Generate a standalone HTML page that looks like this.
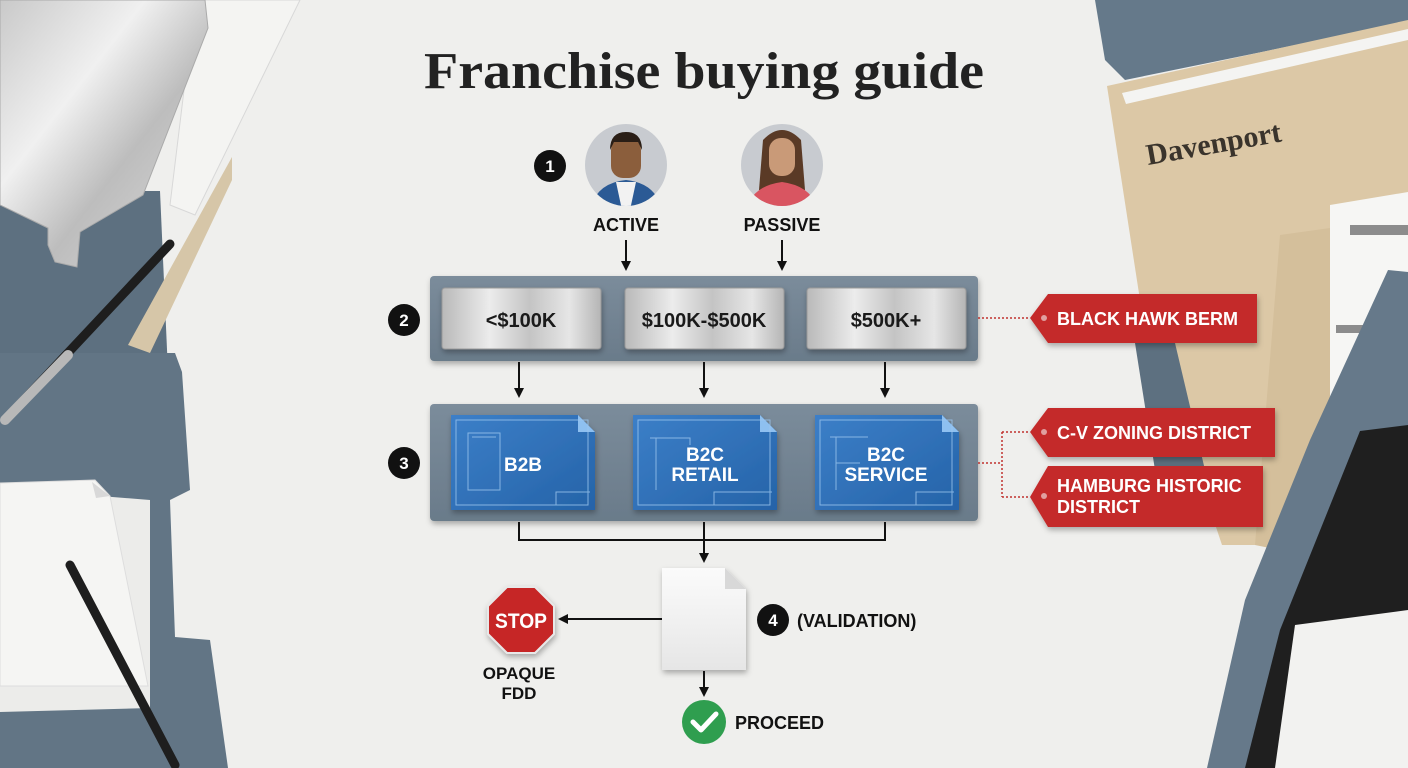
<!DOCTYPE html>
<html><head><meta charset="utf-8"><style>
html,body{margin:0;padding:0;width:1408px;height:768px;overflow:hidden;background:#efefed}
svg{display:block}
text{font-family:"Liberation Sans",sans-serif;font-weight:bold}
</style></head><body>
<svg width="1408" height="768" viewBox="0 0 1408 768" xmlns="http://www.w3.org/2000/svg">
<defs>
<linearGradient id="metal" x1="0" y1="0" x2="1" y2="1">
<stop offset="0" stop-color="#c9c9c9"/><stop offset="0.35" stop-color="#f0f0f0"/><stop offset="0.6" stop-color="#bdbdbd"/><stop offset="1" stop-color="#dcdcdc"/></linearGradient>
<linearGradient id="btn" x1="0" y1="0" x2="1" y2="0">
<stop offset="0" stop-color="#b9b9b9"/><stop offset="0.3" stop-color="#ececec"/><stop offset="0.55" stop-color="#c4c4c4"/><stop offset="0.8" stop-color="#e6e6e6"/><stop offset="1" stop-color="#b5b5b5"/></linearGradient>
<linearGradient id="panel" x1="0" y1="0" x2="0" y2="1">
<stop offset="0" stop-color="#7b8c9b"/><stop offset="1" stop-color="#6a7b8a"/></linearGradient>
<linearGradient id="bp" x1="0" y1="0" x2="1" y2="1">
<stop offset="0" stop-color="#3c7fc8"/><stop offset="1" stop-color="#2563a8"/></linearGradient>
<linearGradient id="doc" x1="0" y1="0" x2="0" y2="1">
<stop offset="0" stop-color="#fbfbfb"/><stop offset="1" stop-color="#e6e6e6"/></linearGradient>
<marker id="ah" markerWidth="10" markerHeight="10" refX="8" refY="5" orient="auto" markerUnits="userSpaceOnUse">
<path d="M0,0 L10,5 L0,10 Z" fill="#111"/></marker>
<filter id="sh" x="-10%" y="-10%" width="120%" height="130%"><feDropShadow dx="1" dy="3" stdDeviation="3" flood-opacity="0.3"/></filter>
</defs>

<!-- LEFT DECOR -->
<polygon points="0,191 160,191 168,372 0,372" fill="#5d7080"/>
<polygon points="232,157 232,180 150,353 128,345" fill="#d6c6a8"/>
<polygon points="0,353 175,353 182,372 190,490 170,500 175,637 210,640 228,768 0,768" fill="#627585"/>
<polygon points="195,0 300,0 195,215 170,205" fill="#f4f4f2" stroke="#d8d8d8"/>
<polygon points="0,0 205,0 208,28 143,195 80,232 77,267 55,262 48,245 48,228 0,205" fill="url(#metal)" stroke="#aaa"/>
<polygon points="0,488 150,500 150,708 0,712" fill="#ececea"/>
<polygon points="0,483 95,480 110,496 148,686 0,686" fill="#f5f5f3" stroke="#ddd"/>
<polygon points="92,482 110,496 96,498" fill="#d8d8d8"/>
<line x1="170" y1="244" x2="5" y2="420" stroke="#1e1e1e" stroke-width="9" stroke-linecap="round"/>
<line x1="68" y1="355" x2="5" y2="420" stroke="#b8b8b8" stroke-width="10" stroke-linecap="round"/>
<line x1="70" y1="565" x2="175" y2="765" stroke="#1e1e1e" stroke-width="9" stroke-linecap="round"/>

<!-- RIGHT DECOR -->
<polygon points="1095,0 1408,0 1408,22 1125,80 1105,60" fill="#65798a"/>
<polygon points="1107,86 1408,20 1408,400 1255,545 1222,545 1140,300" fill="#dcc8a6"/>
<polygon points="1122,93 1408,29 1408,40 1126,104" fill="#f4f4f2"/>
<polygon points="1280,235 1330,228 1330,560 1255,545" fill="#d4bf9b"/>
<text x="1148" y="165" transform="rotate(-10 1148 165)" font-size="30" fill="#3a342c" style="font-family:'Liberation Serif',serif">Davenport</text>
<polygon points="1135,343 1175,343 1205,470 1155,470" fill="#5d7080"/>
<polygon points="1330,205 1408,192 1408,420 1330,420" fill="#f6f6f4"/>
<rect x="1350" y="225" width="58" height="10" fill="#8c8c8c"/>
<rect x="1336" y="325" width="72" height="8" fill="#8c8c8c"/>
<polygon points="1388,270 1408,272 1408,768 1207,768 1245,600 1310,440" fill="#66798a"/>
<polygon points="1360,431 1408,425 1408,768 1245,768 1280,630" fill="#1f1f1f"/>
<polygon points="1295,625 1408,610 1408,768 1275,768" fill="#f2f2f0"/>

<!-- TITLE -->
<text x="424" y="88" font-size="52" fill="#222" textLength="560" lengthAdjust="spacingAndGlyphs" style="font-family:'Liberation Serif',serif;font-weight:bold">Franchise buying guide</text>

<!-- STEP 1 -->
<circle cx="550" cy="166" r="16" fill="#111"/>
<text x="550" y="172" font-size="17" fill="#fff" text-anchor="middle">1</text>
<g>
<circle cx="626" cy="165" r="41" fill="#c8cbd0"/>
<clipPath id="c1"><circle cx="626" cy="165" r="41"/></clipPath>
<g clip-path="url(#c1)">
<path d="M590,210 Q596,183 626,180 Q656,183 662,210 Z" fill="#2b5a95"/>
<polygon points="616,182 636,182 630,210 622,210" fill="#f2f2f2"/>
<rect x="611" y="138" width="30" height="40" rx="12" fill="#8b5e3c"/>
<path d="M610,150 Q610,132 626,132 Q642,132 642,150 L638,142 L614,142 Z" fill="#2a1e16"/>
</g>
<circle cx="782" cy="165" r="41" fill="#c8cbd0"/>
<clipPath id="c2"><circle cx="782" cy="165" r="41"/></clipPath>
<g clip-path="url(#c2)">
<path d="M763,140 Q782,120 801,140 L805,190 L759,190 Z" fill="#5a3a26"/>
<path d="M746,210 Q752,186 782,182 Q812,186 818,210 Z" fill="#d95561"/>
<rect x="769" y="138" width="26" height="38" rx="12" fill="#c99a78"/>
</g>
</g>
<text x="626" y="231" font-size="18" fill="#111" text-anchor="middle">ACTIVE</text>
<text x="782" y="231" font-size="18" fill="#111" text-anchor="middle">PASSIVE</text>
<line x1="626" y1="240" x2="626" y2="269" stroke="#111" stroke-width="2" marker-end="url(#ah)"/>
<line x1="782" y1="240" x2="782" y2="269" stroke="#111" stroke-width="2" marker-end="url(#ah)"/>

<!-- PANEL 1 -->
<rect x="430" y="276" width="548" height="85" rx="4" fill="url(#panel)" filter="url(#sh)"/>
<circle cx="404" cy="320" r="16" fill="#111"/>
<text x="404" y="326" font-size="17" fill="#fff" text-anchor="middle">2</text>
<g filter="url(#sh)">
<rect x="442" y="288" width="159" height="61" rx="3" fill="url(#btn)" stroke="#9a9a9a"/>
<rect x="625" y="288" width="159" height="61" rx="3" fill="url(#btn)" stroke="#9a9a9a"/>
<rect x="807" y="288" width="159" height="61" rx="3" fill="url(#btn)" stroke="#9a9a9a"/>
</g>
<text x="521" y="327" font-size="20" fill="#1a1a1a" text-anchor="middle">&lt;$100K</text>
<text x="704" y="327" font-size="20" fill="#1a1a1a" text-anchor="middle">$100K-$500K</text>
<text x="886" y="327" font-size="20" fill="#1a1a1a" text-anchor="middle">$500K+</text>
<line x1="978" y1="318" x2="1030" y2="318" stroke="#c0322f" stroke-width="1.5" stroke-dasharray="2,2"/>

<line x1="519" y1="362" x2="519" y2="396" stroke="#111" stroke-width="2" marker-end="url(#ah)"/>
<line x1="704" y1="362" x2="704" y2="396" stroke="#111" stroke-width="2" marker-end="url(#ah)"/>
<line x1="885" y1="362" x2="885" y2="396" stroke="#111" stroke-width="2" marker-end="url(#ah)"/>

<!-- PANEL 2 -->
<rect x="430" y="404" width="548" height="117" rx="4" fill="url(#panel)" filter="url(#sh)"/>
<circle cx="404" cy="463" r="16" fill="#111"/>
<text x="404" y="469" font-size="17" fill="#fff" text-anchor="middle">3</text>
<g filter="url(#sh)">
<polygon points="451,415 578,415 595,432 595,510 451,510" fill="url(#bp)"/>
<polygon points="633,415 760,415 777,432 777,510 633,510" fill="url(#bp)"/>
<polygon points="815,415 942,415 959,432 959,510 815,510" fill="url(#bp)"/>
</g>
<g fill="#8ec0f0"><polygon points="578,415 595,432 578,432"/><polygon points="760,415 777,432 760,432"/><polygon points="942,415 959,432 942,432"/></g>
<g fill="none" stroke="#9cc6ee" stroke-width="1" opacity="0.8">
<rect x="456" y="420" width="132" height="85"/><rect x="638" y="420" width="132" height="85"/><rect x="820" y="420" width="132" height="85"/>
<path d="M468,433 L500,433 L500,490 L468,490 Z M472,437 L496,437"/>
<path d="M650,438 L656,438 L656,490 M656,438 L690,438 L690,445"/>
<path d="M830,437 L836,437 L836,490 M836,437 L868,437 M836,463 L860,463"/>
<path d="M556,505 L556,492 L590,492 M714,505 L714,492 L772,492 M916,505 L916,492 L954,492"/>
</g>
<text x="523" y="471" font-size="19" fill="#fff" text-anchor="middle">B2B</text>
<text x="705" y="461" font-size="19" fill="#fff" text-anchor="middle">B2C</text>
<text x="705" y="481" font-size="19" fill="#fff" text-anchor="middle">RETAIL</text>
<text x="886" y="461" font-size="19" fill="#fff" text-anchor="middle">B2C</text>
<text x="886" y="481" font-size="19" fill="#fff" text-anchor="middle">SERVICE</text>
<path d="M978,463 L1002,463 M1002,432 L1002,497 M1002,432 L1030,432 M1002,497 L1030,497" fill="none" stroke="#c0322f" stroke-width="1.5" stroke-dasharray="2,2"/>

<!-- TAGS -->
<g filter="url(#sh)">
<polygon points="1048,294 1257,294 1257,343 1048,343 1030,318" fill="#c42a2a"/>
<polygon points="1048,408 1275,408 1275,457 1048,457 1030,432" fill="#c42a2a"/>
<polygon points="1048,466 1263,466 1263,527 1048,527 1030,497" fill="#c42a2a"/>
</g>
<g fill="#e0a0a0"><circle cx="1044" cy="318" r="3"/><circle cx="1044" cy="432" r="3"/><circle cx="1044" cy="496" r="3"/></g>
<text x="1057" y="325" font-size="18" fill="#fff">BLACK HAWK BERM</text>
<text x="1057" y="439" font-size="18" fill="#fff">C-V ZONING DISTRICT</text>
<text x="1057" y="492" font-size="18" fill="#fff">HAMBURG HISTORIC</text>
<text x="1057" y="513" font-size="18" fill="#fff">DISTRICT</text>

<!-- BRACKET -->
<path d="M519,522 L519,540 L885,540 L885,522 M704,522 L704,540" fill="none" stroke="#111" stroke-width="2"/>
<line x1="704" y1="540" x2="704" y2="561" stroke="#111" stroke-width="2" marker-end="url(#ah)"/>

<!-- DOC -->
<g filter="url(#sh)">
<polygon points="662,568 725,568 746,589 746,670 662,670" fill="url(#doc)"/>
</g>
<polygon points="725,568 746,589 725,589" fill="#d8d8d8"/>
<line x1="662" y1="619" x2="560" y2="619" stroke="#111" stroke-width="2" marker-end="url(#ah)"/>
<circle cx="773" cy="620" r="16" fill="#111"/>
<text x="773" y="626" font-size="17" fill="#fff" text-anchor="middle">4</text>
<text x="797" y="627" font-size="18" fill="#111">(VALIDATION)</text>

<!-- STOP -->
<polygon points="507,587 535,587 554,606 554,634 535,653 507,653 488,634 488,606" fill="#c62828" stroke="#e8e8e8" stroke-width="2" filter="url(#sh)"/>
<text x="521" y="628" font-size="21" fill="#fff" text-anchor="middle" textLength="52" lengthAdjust="spacingAndGlyphs">STOP</text>
<text x="519" y="679" font-size="17" fill="#111" text-anchor="middle">OPAQUE</text>
<text x="519" y="699" font-size="17" fill="#111" text-anchor="middle">FDD</text>

<line x1="704" y1="671" x2="704" y2="695" stroke="#111" stroke-width="2" marker-end="url(#ah)"/>
<circle cx="704" cy="722" r="22" fill="#2f9e4f"/>
<path d="M693,722 L701,730 L716,714" fill="none" stroke="#fff" stroke-width="5" stroke-linecap="round" stroke-linejoin="round"/>
<text x="735" y="729" font-size="18" fill="#111">PROCEED</text>
</svg>
</body></html>
